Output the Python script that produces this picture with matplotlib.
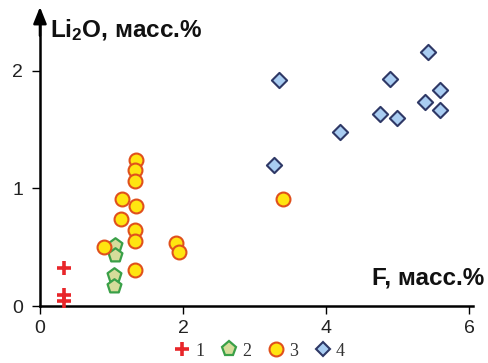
import matplotlib
matplotlib.use('Agg')
import matplotlib.pyplot as plt
from matplotlib.lines import Line2D

plt.rcParams['font.family'] = ['Liberation Sans', 'DejaVu Sans']

# group 1 (crosses)
f1 = [0.33, 0.33, 0.33]
li1 = [0.32, 0.09, 0.04]
# group 2 (pentagons)
f2 = [1.05, 1.05, 1.04, 1.04]
li2 = [0.52, 0.43, 0.26, 0.17]
# group 3 (circles)
f3 = [1.34, 1.33, 1.33, 1.15, 1.34, 1.14, 1.33, 1.33, 0.90, 1.33, 1.90, 1.95, 3.40]
li3 = [1.24, 1.16, 1.06, 0.91, 0.85, 0.74, 0.65, 0.55, 0.50, 0.31, 0.54, 0.46, 0.91]
# group 4 (diamonds)
f4 = [5.43, 3.34, 4.90, 5.59, 5.39, 5.59, 4.75, 4.99, 4.20, 3.27]
li4 = [2.16, 1.92, 1.93, 1.84, 1.74, 1.67, 1.63, 1.60, 1.48, 1.20]

xticks = [0, 2, 4, 6]
yticks = [0, 1, 2]
legend_labels = ['1', '2', '3', '4']

fig = plt.figure(figsize=(4.88, 3.63), dpi=100)
ax = fig.add_axes([0, 0, 1, 1])
ax.set_xlim(-0.559, 6.266)
ax.set_ylim(-0.485, 2.604)

for s in ['top', 'right']:
    ax.spines[s].set_visible(False)
ax.spines['left'].set_position(('data', 0))
ax.spines['bottom'].set_position(('data', 0))
ax.spines['left'].set_bounds(0, 2.4)
ax.spines['bottom'].set_bounds(0, 6.05)
ax.spines['left'].set_linewidth(1.8)
ax.spines['bottom'].set_linewidth(1.8)

# arrow heads
ax.annotate('', xy=(0, 2.545), xytext=(0, 2.3),
            arrowprops=dict(arrowstyle='-|>,head_length=1.0,head_width=0.4',
                            color='black', lw=1.8, shrinkA=0, shrinkB=0))
ax.annotate('', xy=(6.28, 0), xytext=(6.0, 0),
            arrowprops=dict(arrowstyle='-|>,head_length=1.0,head_width=0.4',
                            color='black', lw=1.8, shrinkA=0, shrinkB=0))

ax.set_xticks(xticks)
ax.set_yticks(yticks)
ax.tick_params(direction='out', length=6, width=1, labelsize=14,
               colors='black', labelcolor='#222222')
ax.tick_params(axis='x', pad=4)
ax.tick_params(axis='y', pad=6)

ax.scatter(f1, li1, marker='+', s=90, color='#e8262a', linewidths=2.6, zorder=3)
ax.scatter(f2, li2, marker='p', s=110, facecolor='#d6dc9a', edgecolor='#3aa048',
           linewidths=1.6, zorder=3)
ax.scatter(f3, li3, marker='o', s=100, facecolor='#ffe510', edgecolor='#e0501c',
           linewidths=1.5, zorder=3)
ax.scatter(f4, li4, marker='D', s=60, facecolor='#a9cdf2', edgecolor='#2e3866',
           linewidths=1.5, zorder=3)

ax.text(0.14, 2.292, r'Li$\mathregular{_2}$O, масс.%', fontsize=17.5,
        fontweight='bold', ha='left', va='baseline', color='#111111')
ax.text(4.64, 0.179, 'F, масс.%', fontsize=17.5, fontweight='bold',
        ha='left', va='baseline', color='#111111')

handles = [
    Line2D([], [], linestyle='none', marker='+', markersize=10, color='#e8262a',
           markeredgewidth=2.6),
    Line2D([], [], linestyle='none', marker='p', markersize=11,
           markerfacecolor='#d6dc9a', markeredgecolor='#3aa048', markeredgewidth=1.6),
    Line2D([], [], linestyle='none', marker='o', markersize=10,
           markerfacecolor='#ffe510', markeredgecolor='#e0501c', markeredgewidth=1.5),
    Line2D([], [], linestyle='none', marker='D', markersize=7.5,
           markerfacecolor='#a9cdf2', markeredgecolor='#2e3866', markeredgewidth=1.5),
]
fig.legend(handles, legend_labels, loc='center', ncol=4,
           bbox_to_anchor=(260 / 488, 1 - 351 / 363), frameon=False,
           handlelength=0.8, handletextpad=0.3, columnspacing=1.0,
           prop={'family': 'Liberation Serif', 'size': 13}, borderpad=0,
           labelcolor='#333333')

fig.savefig('out.png', dpi=100)
